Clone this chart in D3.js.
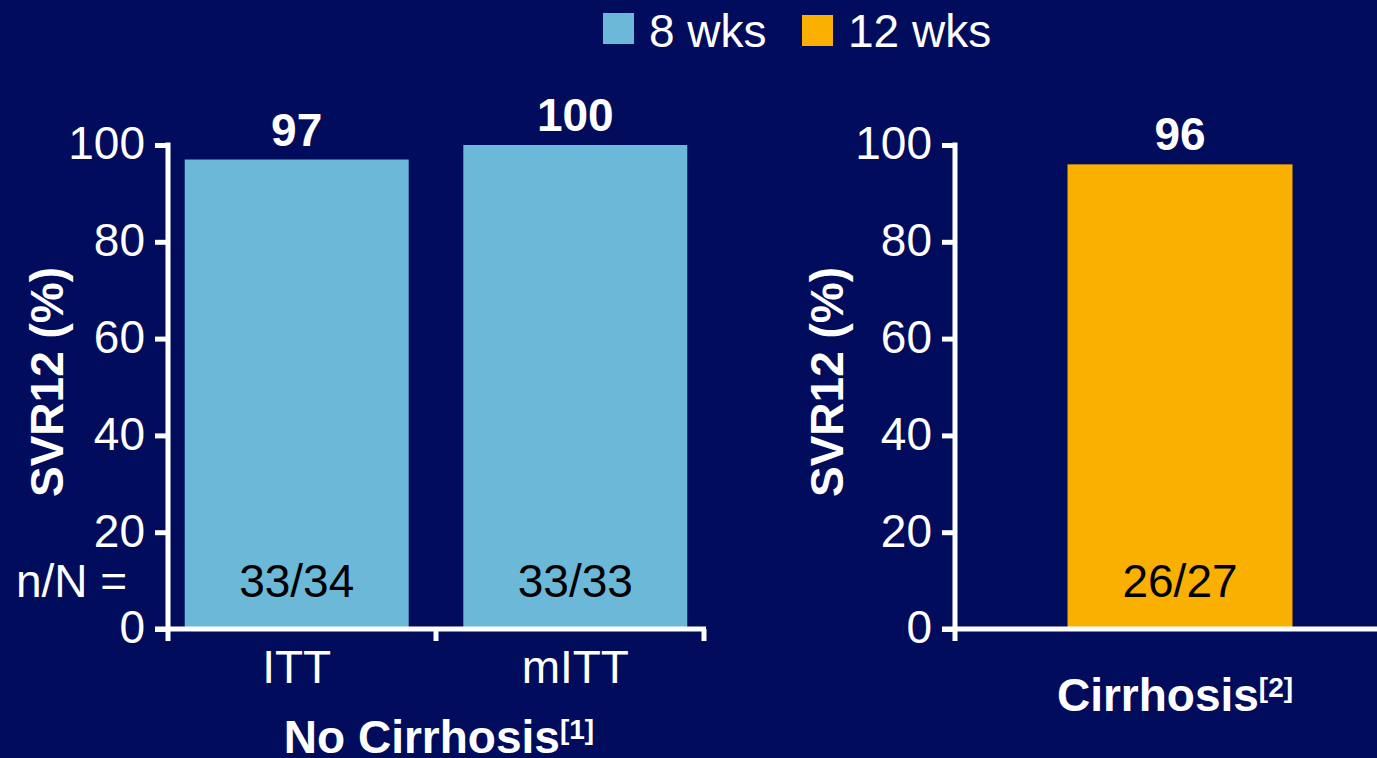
<!DOCTYPE html>
<html>
<head>
<meta charset="utf-8">
<script src="https://cdn.jsdelivr.net/npm/d3@7"></script>
<style>
  html, body { margin: 0; padding: 0; background: #020C5C; }
  svg { display: block; }
  text { font-family: "Liberation Sans", Arial, sans-serif; fill: #fff; }
</style>
</head>
<body>
<svg id="chart" width="1377" height="758"></svg>
<script>
// Panel A: no cirrhosis, 8 weeks
const noCirrCategories = ["ITT", "mITT"];
const noCirrValues = [97, 100];
const noCirrCounts = ["33/34", "33/33"];

// Panel B: cirrhosis, 12 weeks
const cirrCategories = ["Cirrhosis"];
const cirrValues = [96];
const cirrCounts = ["26/27"];

const yTicks = [0, 20, 40, 60, 80, 100];
const legendLabels = ["8 wks", "12 wks"];
const seriesColors = ["#6BB8D8", "#F9B000"];

const FONT = 46;
const svg = d3.select("#chart");
const W = 1377, H = 758;
svg.append("rect").attr("width", W).attr("height", H).attr("fill", "#020C5C");

const y = d3.scaleLinear().domain([0, 100]).range([629, 145]);
const AXIS_W = 5;
const TICK = 13;

function drawPanel(opts) {
  const g = svg.append("g");
  const x = d3.scaleBand().domain(opts.categories).range(opts.xRange)
    .paddingInner(opts.padIn).paddingOuter(opts.padOut);

  // bars
  g.selectAll("rect.bar").data(opts.values).join("rect")
    .attr("class", "bar")
    .attr("x", (d, i) => x(opts.categories[i]))
    .attr("width", x.bandwidth())
    .attr("y", d => y(d))
    .attr("height", d => y(0) - y(d))
    .attr("fill", opts.color);

  // y axis
  const axisX = opts.xRange[0];
  const yAxis = d3.axisLeft(y).tickValues(yTicks).tickSize(TICK).tickPadding(10);
  const ya = g.append("g").attr("transform", `translate(${axisX},0)`).call(yAxis);
  ya.select(".domain").remove();
  ya.selectAll(".tick line").attr("stroke", "#fff").attr("stroke-width", AXIS_W);
  ya.selectAll(".tick text").attr("fill", "#fff").attr("dy", "0.3em")
    .style("font-size", FONT + "px")
    .style("font-family", "Liberation Sans, Arial, sans-serif");
  ya.append("line").attr("x1", 0).attr("x2", 0).attr("y1", y(100) - AXIS_W / 2).attr("y2", y(0))
    .attr("stroke", "#fff").attr("stroke-width", AXIS_W);

  // x axis baseline
  g.append("line").attr("x1", axisX - TICK).attr("x2", opts.xAxisEnd)
    .attr("y1", y(0)).attr("y2", y(0)).attr("stroke", "#fff").attr("stroke-width", AXIS_W);

  // category boundary ticks below the baseline
  const bounds = [opts.xRange[0]];
  if (opts.categories.length > 1) {
    for (let i = 1; i < opts.categories.length; i++) {
      const prevEnd = x(opts.categories[i - 1]) + x.bandwidth();
      bounds.push((prevEnd + x(opts.categories[i])) / 2);
    }
    bounds.push(opts.xRange[1]);
  }
  g.selectAll("line.bound").data(bounds).join("line")
    .attr("class", "bound")
    .attr("x1", d => d).attr("x2", d => d)
    .attr("y1", y(0)).attr("y2", y(0) + 12)
    .attr("stroke", "#fff").attr("stroke-width", AXIS_W);

  // value labels
  g.selectAll("text.val").data(opts.values).join("text")
    .attr("class", "val")
    .attr("x", (d, i) => x(opts.categories[i]) + x.bandwidth() / 2)
    .attr("y", d => y(d) - 14)
    .attr("text-anchor", "middle")
    .style("font-size", FONT + "px").style("font-weight", "bold")
    .text(d => d);

  // n/N counts inside bars
  g.selectAll("text.cnt").data(opts.counts).join("text")
    .attr("class", "cnt")
    .attr("x", (d, i) => x(opts.categories[i]) + x.bandwidth() / 2)
    .attr("y", 597)
    .attr("text-anchor", "middle")
    .style("font-size", FONT + "px").style("fill", "#000")
    .text(d => d);

  // y axis title
  g.append("text")
    .attr("transform", `translate(${opts.titleX},382) rotate(-90)`)
    .attr("text-anchor", "middle")
    .style("font-size", FONT + "px").style("font-weight", "bold")
    .text("SVR12 (%)");

  return x;
}

const xA = drawPanel({
  categories: noCirrCategories, values: noCirrValues, counts: noCirrCounts,
  color: seriesColors[0], xRange: [168, 704], padIn: 0.196, padOut: 0.06,
  xAxisEnd: 706, titleX: 63
});
const xB = drawPanel({
  categories: cirrCategories, values: cirrValues, counts: cirrCounts,
  color: seriesColors[1], xRange: [955, 1405], padIn: 0, padOut: 0.5,
  xAxisEnd: 1377, titleX: 843
});

// category labels, panel A
svg.selectAll("text.cat").data(noCirrCategories).join("text")
  .attr("class", "cat")
  .attr("x", d => xA(d) + xA.bandwidth() / 2)
  .attr("y", 683)
  .attr("text-anchor", "middle")
  .style("font-size", FONT + "px")
  .text(d => d);

// "n/N =" row label
svg.append("text").attr("x", 16).attr("y", 597)
  .style("font-size", FONT + "px").text("n/N =");

// group titles with superscript references
function groupTitle(cx, baseline, label, ref) {
  const t = svg.append("text").attr("x", cx).attr("y", baseline)
    .attr("text-anchor", "middle").style("font-size", FONT + "px").style("font-weight", "bold");
  t.append("tspan").text(label);
  t.append("tspan").attr("dy", -14).style("font-size", "28px").text(`[${ref}]`);
}
groupTitle(439, 753, "No Cirrhosis", 1);
groupTitle(1175, 711, "Cirrhosis", 2);

// legend
const legend = svg.append("g");
const legendX = [603, 802];
const legendY = [13, 15];
legendLabels.forEach((lab, i) => {
  legend.append("rect").attr("x", legendX[i]).attr("y", legendY[i]).attr("width", 31).attr("height", 31)
    .attr("fill", seriesColors[i]);
  legend.append("text").attr("x", legendX[i] + 46).attr("y", 47)
    .style("font-size", FONT + "px").text(lab);
});
</script>
</body>
</html>
